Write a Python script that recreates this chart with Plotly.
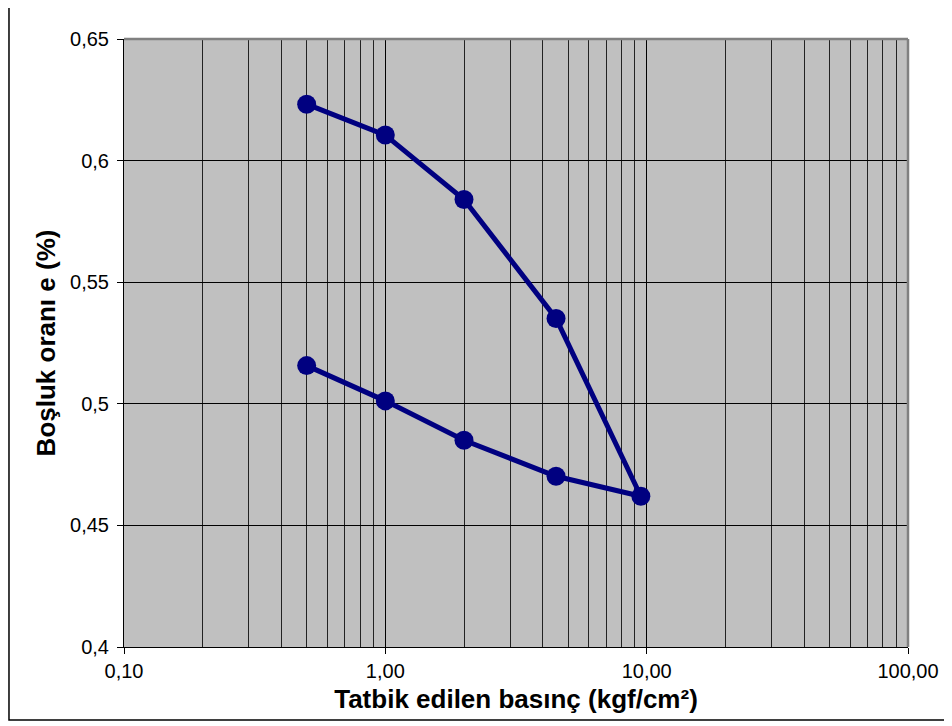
import plotly.graph_objects as go

# Konsolidasyon deneyi: yükleme + boşaltma
basinc = [0.5, 1.0, 2.0, 4.5, 9.5, 4.5, 2.0, 1.0, 0.5]
bosluk_orani = [0.6232, 0.6105, 0.584, 0.5351, 0.462, 0.4702, 0.485, 0.5012, 0.5157]

x_ticks = [0.1, 1, 10, 100]
x_labels = ["0,10", "1,00", "10,00", "100,00"]
y_ticks = [0.4, 0.45, 0.5, 0.55, 0.6, 0.65]

minor_x = [m * d for d in (0.1, 1, 10) for m in range(2, 10)]

fig = go.Figure()
fig.add_trace(go.Scatter(
    x=basinc, y=bosluk_orani, mode="lines+markers",
    line=dict(color="#000080", width=5),
    marker=dict(color="#000080", size=19),
    showlegend=False,
))

fig.update_xaxes(
    type="log", range=[-1, 2],
    tickvals=x_ticks, ticktext=x_labels,
    ticks="outside", ticklen=6, tickcolor="black",
    showline=True, linecolor="black", linewidth=1,
    showgrid=True, gridcolor="black", gridwidth=1,
    minor=dict(tickvals=minor_x, showgrid=True, gridcolor="#222222", gridwidth=1, ticks=""),
    zeroline=False,
    tickfont=dict(family="Arial, Liberation Sans", size=20, color="black"),
    title=dict(text="<b>Tatbik edilen basınç (kgf/cm²)</b>", standoff=8,
               font=dict(family="Arial, Liberation Sans", size=26, color="black")),
)
fig.update_yaxes(
    range=[0.4, 0.65], tickvals=y_ticks,
    ticks="outside", ticklen=6, tickcolor="black", ticklabelstandoff=4,
    showline=True, linecolor="black", linewidth=1,
    showgrid=True, gridcolor="black", gridwidth=1,
    zeroline=False,
    tickfont=dict(family="Arial, Liberation Sans", size=20, color="black"),
    title=dict(text="<b>Boşluk oranı e (%)</b>", standoff=6,
               font=dict(family="Arial, Liberation Sans", size=26, color="black")),
)

# dış çerçeve ve çizim alanı kenarları
fig.add_shape(type="rect", xref="paper", yref="paper",
              x0=-0.1467, x1=1.2, y0=-0.12, y1=1.2,
              line=dict(color="black", width=1.5))
fig.add_shape(type="line", xref="paper", yref="paper",
              x0=0, x1=1, y0=1, y1=1, line=dict(color="#808080", width=2.5))
fig.add_shape(type="line", xref="paper", yref="paper",
              x0=1, x1=1, y0=0, y1=1, line=dict(color="#808080", width=2.5))

# sayfa gövdesinin 8 px kenar boşluğu hesaba katıldı
fig.update_layout(
    width=944, height=718,
    margin=dict(l=116, r=44, t=31, b=79),
    paper_bgcolor="white", plot_bgcolor="#C0C0C0",
    separators=",.",
)

fig.write_html("out.html")
